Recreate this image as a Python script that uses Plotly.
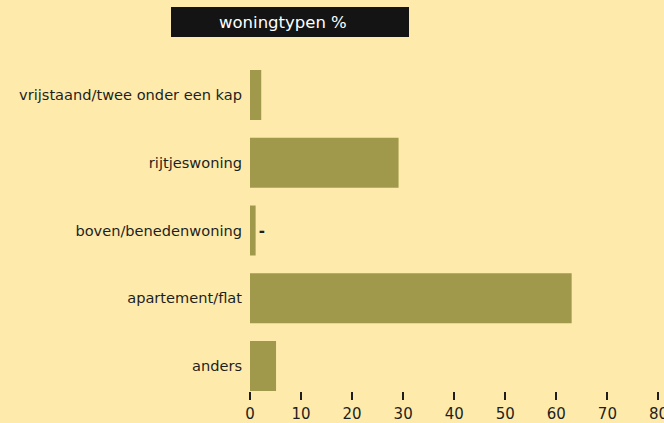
import plotly.graph_objects as go

categories = ["vrijstaand/twee onder een kap", "rijtjeswoning", "boven/benedenwoning", "apartement/flat", "anders"]
values = [2.2, 29.1, 1.1, 63.0, 5.1]
bar_texts = ["", "", "<b>-</b>", "", ""]
x_ticks = [0, 10, 20, 30, 40, 50, 60, 70, 80]
title_text = "woningtypen %"

BG = "#FEEBAB"
BAR = "#A0984A"
FONT = "DejaVu Sans"
TXT = "#1e1e1e"

PW, PH = 411, 330  # plot area size in px (for paper conversions)
L, T = 250, 61

def px_x(p):
    return (p - L) / PW

def px_y(p):
    return 1 + (T - p) / PH

fig = go.Figure()
fig.add_trace(go.Bar(
    x=values, y=categories, orientation="h",
    marker=dict(color=BAR, line=dict(width=0)),
    text=bar_texts, textposition="outside", cliponaxis=False,
    textfont=dict(family=FONT, size=15, color=TXT),
    width=0.738, hoverinfo="skip",
))

fig.update_layout(
    template="none",
    width=664, height=423,
    margin=dict(l=L, r=664 - L - PW, t=T, b=423 - T - PH, autoexpand=False),
    paper_bgcolor=BG, plot_bgcolor=BG,
    showlegend=False,
    font=dict(family=FONT, size=15, color=TXT),
    xaxis=dict(range=[0, 80.5], tickvals=x_ticks, ticks="outside", ticklen=8, tickwidth=2,
               tickcolor=TXT, showgrid=False, zeroline=False, showline=False,
               ticklabeloverflow="allow", automargin=False, ticklabelstandoff=1,
               tickfont=dict(family=FONT, size=15, color=TXT)),
    yaxis=dict(type="category", categoryorder="array", categoryarray=categories,
               range=[4.369, -0.502], showgrid=False, zeroline=False, showline=False,
               ticks="", ticklabelstandoff=7, automargin=False,
               tickfont=dict(family=FONT, size=14.6, color=TXT)),
    shapes=[dict(type="rect", xref="paper", yref="paper",
                 x0=px_x(171), x1=px_x(409), y0=px_y(37), y1=px_y(7),
                 fillcolor="#141414", line=dict(width=0), layer="above")],
    annotations=[dict(
        text=title_text, xref="paper", yref="paper",
        x=px_x(282.5), y=px_y(22), xanchor="center", yanchor="middle",
        showarrow=False,
        font=dict(family=FONT, size=16.5, color="#ffffff"),
    )],
)

post = (
    "document.documentElement.style.overflow='hidden';"
    "document.body.style.margin='0';"
    "document.body.style.overflow='hidden';"
    "document.body.style.background='#FEEBAB';"
    "var gd=document.getElementById('{plot_id}');"
    "gd.style.overflow='hidden';"
)

fig.write_html("out.html", config={"displayModeBar": False}, post_script=post)
